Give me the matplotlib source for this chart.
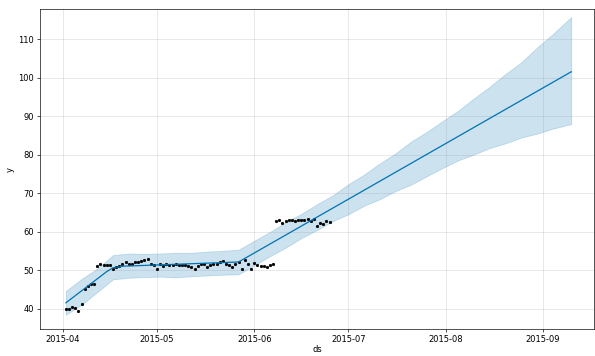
import numpy as np
import pandas as pd
import matplotlib
matplotlib.use('Agg')
import matplotlib.pyplot as plt

# observed values, one per day from 2015-04-02
obs_start = '2015-04-02'
obs_y = [40.0, 39.8, 40.5, 40.1, 39.4, 41.2, 45.1, 45.8, 46.5, 46.4,
         51.1, 51.5, 51.4, 51.3, 51.2, 50.4, 50.7, 51.1, 51.5, 52.0,
         51.5, 51.7, 52.0, 52.2, 52.4, 52.5, 52.9, 51.7, 51.3, 50.2,
         51.5, 51.1, 51.7, 51.3, 51.3, 51.5, 51.3, 51.3, 51.2, 51.1,
         50.8, 50.2, 51.1, 51.5, 51.7, 50.8, 51.3, 51.5, 51.7, 52.2,
         52.4, 51.5, 51.3, 50.8, 51.5, 52.2, 50.4, 52.6, 51.7, 50.4,
         51.9, 51.3, 51.1, 51.1, 50.9, 51.2, 51.7, 62.8, 62.9, 62.3,
         62.8, 63.0, 62.9, 62.8, 63.0, 62.9, 63.1, 63.3, 62.8, 63.2,
         61.4, 62.3, 61.9, 62.8, 62.5]

# forecast trend (yhat) at its bends
trend_ds = ['2015-04-02', '2015-04-15', '2015-04-17', '2015-04-20', '2015-05-27', '2015-09-10']
trend_y = [41.5, 49.6, 50.6, 51.0, 52.1, 101.5]

# uncertainty interval
band_ds = ['2015-04-02', '2015-04-07', '2015-04-12', '2015-04-17', '2015-04-22', '2015-04-27',
           '2015-05-02', '2015-05-07', '2015-05-12', '2015-05-17', '2015-05-22', '2015-05-27',
           '2015-06-01', '2015-06-06', '2015-06-11', '2015-06-16', '2015-06-21', '2015-06-26',
           '2015-07-01', '2015-07-06', '2015-07-11', '2015-07-16', '2015-07-21', '2015-07-26',
           '2015-07-31', '2015-08-05', '2015-08-10', '2015-08-15', '2015-08-20', '2015-08-25',
           '2015-08-30', '2015-09-04', '2015-09-10']
band_lo = [38.4, 41.0, 44.3, 47.6, 48.0, 48.2, 48.3, 48.1, 48.4, 48.6, 48.8, 48.9,
           51.2, 53.6, 55.8, 58.3, 60.4, 62.7, 64.5, 66.7, 68.4, 70.5, 72.2, 74.4,
           76.5, 78.5, 80.0, 81.7, 82.9, 84.4, 85.4, 86.7, 87.9]
band_hi = [44.6, 47.7, 50.4, 53.9, 54.3, 54.2, 54.3, 54.5, 54.5, 54.8, 55.0, 55.3,
           57.6, 59.9, 62.4, 64.6, 67.1, 69.4, 72.3, 74.8, 77.7, 80.3, 83.4, 85.9,
           88.7, 91.4, 94.6, 97.6, 100.9, 103.9, 107.7, 111.2, 115.7]

obs_ds = pd.date_range(obs_start, periods=len(obs_y), freq='D')

fig = plt.figure(facecolor='w', figsize=(595 / 60, 356 / 60), dpi=60)
ax = fig.add_subplot(111)
fig.subplots_adjust(left=40 / 595, right=594 / 595, bottom=27 / 356, top=347 / 356)

ax.plot(obs_ds, obs_y, 'k.', ms=5.5)
ax.plot(pd.to_datetime(trend_ds), trend_y, ls='-', c='#0072B2')
ax.fill_between(pd.to_datetime(band_ds), band_lo, band_hi, color='#0072B2', alpha=0.2)
ax.grid(True, which='major', c='gray', ls='-', lw=1, alpha=0.2)
ax.set_xlabel('ds', labelpad=2)
ax.set_ylabel('y')
ax.set_xlim(pd.Timestamp('2015-03-24 18:00'), pd.Timestamp('2015-09-17 06:00'))
ax.set_ylim(34.7, 117.8)

fig.savefig('out.png', dpi=60)
